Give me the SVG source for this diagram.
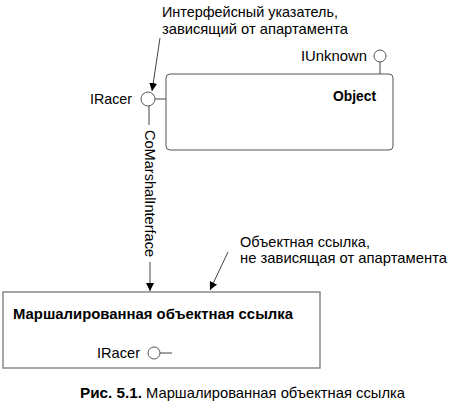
<svg xmlns="http://www.w3.org/2000/svg" width="450" height="410" viewBox="0 0 450 410">
<defs>
<style>
text{font-family:"Liberation Sans",Arial,sans-serif;font-size:14.5px;fill:#000}
.b{font-weight:bold}
.ln{stroke:#444;stroke-width:1;fill:none}
.lol{stroke:#555;stroke-width:1;fill:#fff}
</style>
<marker id="ah" viewBox="0 0 10 10" refX="10" refY="5" markerWidth="8" markerHeight="8" orient="auto" markerUnits="userSpaceOnUse">
<path d="M0,0 L10,5 L0,10 z" fill="#000"/>
</marker>
</defs>
<rect width="450" height="410" fill="#fff"/>
<g id="object">
<rect x="166" y="74" width="227" height="76" rx="4" fill="#fff" stroke="#555" stroke-width="1"/>
<text x="333" y="101" class="b" textLength="43" lengthAdjust="spacingAndGlyphs">Object</text>
<line class="ln" x1="380" y1="62" x2="380" y2="74"/>
<circle class="lol" cx="380" cy="56" r="6"/>
<text x="301" y="61" textLength="66" lengthAdjust="spacingAndGlyphs">IUnknown</text>
<line class="ln" x1="155" y1="99" x2="166" y2="99"/>
<circle class="lol" cx="148" cy="99" r="7"/>
<text x="90" y="104" textLength="42" lengthAdjust="spacingAndGlyphs">IRacer</text>
</g>
<g id="marshaled">
<rect x="3" y="292" width="317" height="76" fill="#fff" stroke="#888" stroke-width="1.5"/>
<text x="13" y="319" class="b" textLength="280" lengthAdjust="spacingAndGlyphs">Маршалированная объектная ссылка</text>
<circle class="lol" cx="154" cy="353" r="6"/>
<line class="ln" x1="160" y1="353" x2="172" y2="353"/>
<text x="97" y="358" textLength="43" lengthAdjust="spacingAndGlyphs">IRacer</text>
</g>
<g id="connectors">
<line class="ln" x1="149" y1="106" x2="149" y2="125"/>
<line class="ln" x1="150" y1="262" x2="150" y2="291" marker-end="url(#ah)" stroke="#000"/>
<text transform="translate(145,130) rotate(90)" textLength="127" lengthAdjust="spacingAndGlyphs">CoMarshalInterface</text>
<line class="ln" x1="160" y1="38" x2="152" y2="91" marker-end="url(#ah)"/>
<line class="ln" x1="228" y1="252" x2="210" y2="290" marker-end="url(#ah)"/>
</g>
<g id="notes">
<text x="162" y="17" textLength="176" lengthAdjust="spacingAndGlyphs">Интерфейсный указатель,</text>
<text x="162" y="34" textLength="186" lengthAdjust="spacingAndGlyphs">зависящий от апартамента</text>
<text x="240" y="247" textLength="130" lengthAdjust="spacingAndGlyphs">Объектная ссылка,</text>
<text x="240" y="263" textLength="207" lengthAdjust="spacingAndGlyphs">не зависящая от апартамента</text>
<text x="80" y="398" class="b" textLength="62" lengthAdjust="spacingAndGlyphs">Рис. 5.1.</text>
<text x="146" y="398" textLength="259" lengthAdjust="spacingAndGlyphs">Маршалированная объектная ссылка</text>
</g>
</svg>
